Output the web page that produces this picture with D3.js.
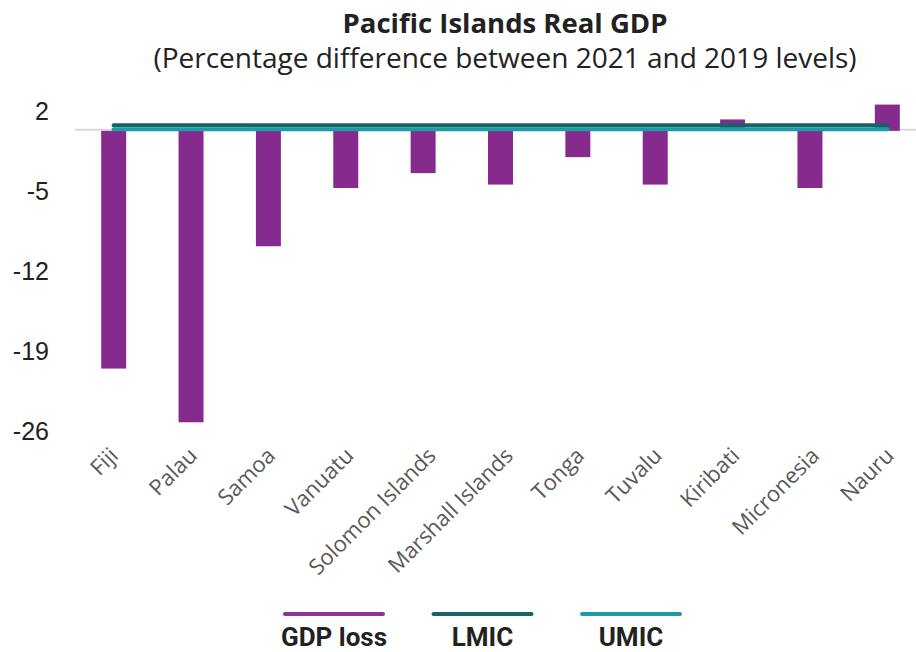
<!DOCTYPE html>
<html>
<head>
<meta charset="utf-8">
<script src="https://cdn.jsdelivr.net/npm/d3@7"></script>
<style>
	body { margin: 0; background: #fff; }
	svg { display: block; }
</style>
</head>
<body>
<svg id="chart" width="916" height="652"></svg>
<script>
// data
var countries = ["Fiji","Palau","Samoa","Vanuatu","Solomon Islands","Marshall Islands","Tonga","Tuvalu","Kiribati","Micronesia","Nauru"];
var gdpLoss = [-20.8,-25.5,-10.1,-5.0,-3.7,-4.7,-2.3,-4.7,1.0,-5.0,2.3];
var lmic = [0.5,0.5,0.5,0.5,0.5,0.5,0.5,0.5,0.5,0.5,0.5];
var umic = [0.15,0.15,0.15,0.15,0.15,0.15,0.15,0.15,0.15,0.15,0.15];
var yTicks = [2,-5,-12,-19,-26];
var legendItems = ["GDP loss","LMIC","UMIC"];

var colors = {gdp:"#862b8d", lmic:"#17636a", umic:"#1e9ca6", legendGdp:"#8e3399"};

var svg = d3.select("#chart");

//scales
var x = d3.scaleBand()
	.domain(countries)
	.range([75, 926])
	.paddingInner(0.677)
	.paddingOuter(0.3385);

var y = d3.scaleLinear()
	.domain([-26, 2])
	.range([428, 108]);

//titles
svg.append("text")
	.attr("x", 505).attr("y", 33)
	.attr("text-anchor", "middle")
	.style("font-family", "'Open Sans', sans-serif")
	.style("font-weight", "bold")
	.style("font-size", "27.5px")
	.style("fill", "#222")
	.text("Pacific Islands Real GDP");

svg.append("text")
	.attr("x", 505).attr("y", 68)
	.attr("text-anchor", "middle")
	.style("font-family", "'Open Sans', sans-serif")
	.style("font-size", "28px")
	.style("fill", "#222")
	.text("(Percentage difference between 2021 and 2019 levels)");

//y axis labels (no line, no ticks)
svg.append("g").selectAll("text")
	.data(yTicks)
	.enter().append("text")
	.attr("x", 49)
	.attr("y", function(d) { return y(d) + 3; })
	.attr("dy", "0.35em")
	.attr("text-anchor", "end")
	.style("font-family", "'Liberation Sans', Arial, sans-serif")
	.style("font-size", "25px")
	.style("fill", "#222")
	.text(function(d) { return d; });

//zero line
svg.append("line")
	.attr("x1", 75).attr("x2", 916)
	.attr("y1", y(0) - 1).attr("y2", y(0) - 1)
	.style("stroke", "#d9d9d9")
	.style("stroke-width", 2);

//bars
svg.append("g").selectAll("rect")
	.data(gdpLoss)
	.enter().append("rect")
	.attr("x", function(d, i) { return x(countries[i]); })
	.attr("width", x.bandwidth())
	.attr("y", function(d) { return y(Math.max(0, d)); })
	.attr("height", function(d) { return Math.abs(y(d) - y(0)); })
	.style("fill", colors.gdp);

//income group lines
var line = d3.line()
	.x(function(d, i) { return x(countries[i]) + x.bandwidth() / 2; })
	.y(function(d) { return y(d); });

svg.append("path")
	.datum(lmic)
	.attr("d", line)
	.style("fill", "none")
	.style("stroke", colors.lmic)
	.style("stroke-width", 4)
	.style("stroke-linecap", "round");

svg.append("path")
	.datum(umic)
	.attr("d", line)
	.style("fill", "none")
	.style("stroke", colors.umic)
	.style("stroke-width", 4)
	.style("stroke-linecap", "round");

//category labels, rotated; longer labels sit a bit further right (as excel does)
svg.append("g").selectAll("text")
	.data(countries)
	.enter().append("text")
	.attr("text-anchor", "end")
	.style("font-family", "'Open Sans', sans-serif")
	.style("font-size", "22px")
	.style("fill", "#595959")
	.text(function(d) { return d; })
	.attr("transform", function(d) {
		var len = this.getComputedTextLength();
		return "translate(" + (x(d) + x.bandwidth() / 2 + 4 + 0.06 * len) + ",457) rotate(-45)";
	});

//legend
var legendColors = [colors.legendGdp, colors.lmic, colors.umic];
var legend = svg.append("g").selectAll("g")
	.data(legendItems)
	.enter().append("g")
	.attr("transform", function(d, i) { return "translate(" + (334 + i * 148.5) + ",0)"; });

legend.append("line")
	.attr("x1", -49).attr("x2", 49)
	.attr("y1", 614).attr("y2", 614)
	.style("stroke", function(d, i) { return legendColors[i]; })
	.style("stroke-width", 4)
	.style("stroke-linecap", "round");

legend.append("text")
	.attr("x", 0).attr("y", 646)
	.attr("text-anchor", "middle")
	.style("font-family", "Roboto, sans-serif")
	.style("font-weight", "bold")
	.style("font-size", "26px")
	.style("fill", "#222")
	.text(function(d) { return d; });
</script>
</body>
</html>
